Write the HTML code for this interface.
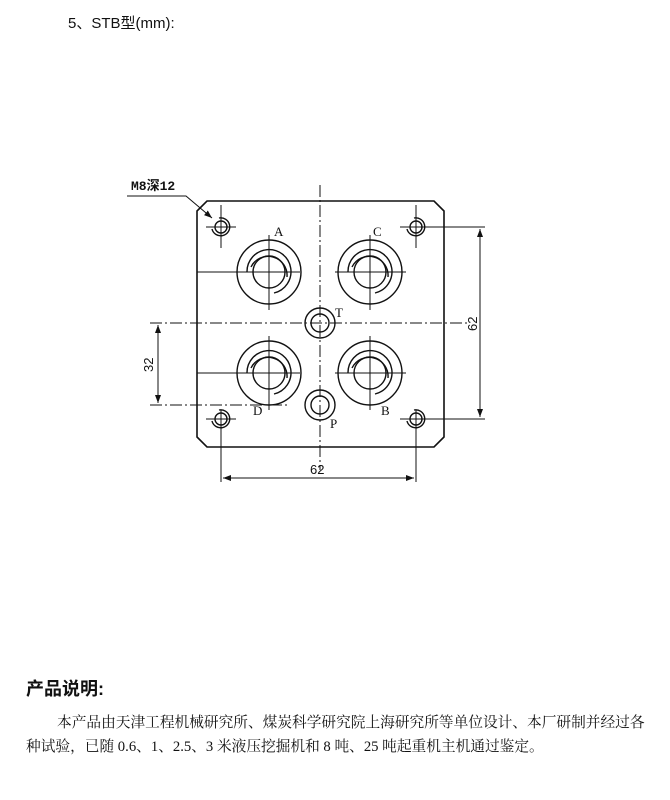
<!DOCTYPE html>
<html><head><meta charset="utf-8"><style>
body{margin:0;background:#fff;width:670px;height:800px;position:relative;overflow:hidden;font-family:"Liberation Sans","Noto Sans CJK SC",sans-serif;color:#111}
.t{position:absolute;white-space:nowrap}
</style></head><body>
<div class="t" style="left:68px;top:12px;font-size:15px">5、STB型(mm):</div>
<svg width="670" height="800" style="position:absolute;left:0;top:0" font-family="Liberation Serif, Noto Serif CJK SC, serif">
<defs><marker id="a" markerWidth="8" markerHeight="6" refX="8" refY="3" orient="auto"><path d="M0,0L8,3L0,6z" fill="#111"/></marker>
<marker id="b" markerWidth="8" markerHeight="6" refX="0" refY="3" orient="auto"><path d="M8,0L0,3L8,6z" fill="#111"/></marker>
<g id="p" stroke="#111" fill="none" stroke-width="1.4"><circle r="32"/><circle r="16"/><path d="M-22,0A22,22 0 1 1 5,21"/><path d="M-18,-5A19,19 0 0 1 18,5"/></g>
<g id="h" stroke="#111" fill="none" stroke-width="1.4"><circle r="6"/><path d="M-2,-9A9,9 0 1 1 -9,2"/></g>
</defs>
<g stroke="#111" fill="none" stroke-width="1.6">
<path d="M207,201H434L444,211V437L434,447H207L197,437V211Z"/>
</g>
<g stroke="#111" fill="none" stroke-width="1">
<path d="M320,185V470" stroke-dasharray="12,3,2,3"/>
<path d="M150,323H470" stroke-dasharray="12,3,2,3"/>
<path d="M150,405H290" stroke-dasharray="12,3,2,3"/>
<path d="M197,272H300M197,373H300M335,272H406M335,373H406"/>
<path d="M269,235V310M370,235V310M269,336V410M370,336V410"/>
<path d="M400,227H485M400,419H485M221,419V482M416,419V482M221,205V248M416,205V248M206,227H236M206,419H236M431,227H400"/>
<path d="M221,410V430M416,410V430"/>
<path d="M480,229V417" marker-start="url(#b)" marker-end="url(#a)"/>
<path d="M158,325V403" marker-start="url(#b)" marker-end="url(#a)"/>
<path d="M223,478H414" marker-start="url(#b)" marker-end="url(#a)"/>
<path d="M127,196H186L212,218" marker-end="url(#a)"/>
</g>
<g stroke="#111" fill="none" stroke-width="1.4">
<use href="#p" x="269" y="272"/><use href="#p" x="370" y="272"/><use href="#p" x="269" y="373"/><use href="#p" x="370" y="373"/>
<circle cx="320" cy="323" r="15"/><circle cx="320" cy="323" r="9"/>
<circle cx="320" cy="405" r="15"/><circle cx="320" cy="405" r="9"/>
<use href="#h" x="221" y="227"/><use href="#h" x="416" y="227"/><use href="#h" x="221" y="419"/><use href="#h" x="416" y="419"/>
</g>
<g fill="#111" font-size="13">
<text x="274" y="236">A</text><text x="373" y="236">C</text><text x="335" y="317">T</text>
<text x="253" y="415">D</text><text x="381" y="415">B</text><text x="330" y="428">P</text>
<text x="310" y="474" font-family="Liberation Sans, sans-serif">62</text>
<text transform="translate(477,331) rotate(-90)" font-family="Liberation Sans, sans-serif">62</text>
<text transform="translate(153,372) rotate(-90)" font-family="Liberation Sans, sans-serif">32</text>
<text x="131" y="190" font-family="Liberation Mono, Noto Sans CJK SC, monospace" font-weight="bold" font-size="13">M8深12</text>
</g>
</svg>
<div class="t" style="left:26px;top:675px;font-size:18px;font-weight:bold">产品说明:</div>
<div class="t" style="left:57px;top:711px;font-size:14.7px;font-family:'Liberation Serif','Noto Serif CJK SC',serif">本产品由天津工程机械研究所、煤炭科学研究院上海研究所等单位设计、本厂研制并经过各</div>
<div class="t" style="left:26px;top:735px;font-size:14.7px;font-family:'Liberation Serif','Noto Serif CJK SC',serif">种试验，已随 0.6、1、2.5、3 米液压挖掘机和 8 吨、25 吨起重机主机通过鉴定。</div>
</body></html>
